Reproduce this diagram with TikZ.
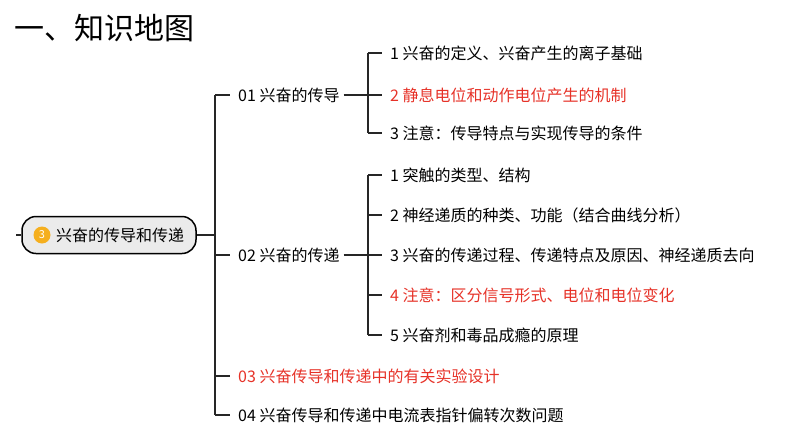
\documentclass[tikz,border=0pt]{standalone}
\usepackage{fontspec}
\setmainfont{Noto Sans CJK SC}
\begin{document}
\begin{tikzpicture}[x=1pt,y=-1pt,
  ln/.style={line width=1.5pt,black!85},
  lab/.style={anchor=west,inner sep=0pt,font=\fontsize{16}{18}\selectfont},
  red/.style={text={rgb,255:red,230;green,50;blue,40}}]
\useasboundingbox (0,0) rectangle (794,447);
\node[anchor=west,inner sep=0pt,font=\fontsize{30}{33}\selectfont] (title) at (14,28) {一、知识地图};
\node[draw,line width=1.5pt,rounded corners=14pt,fill=black!8,minimum width=174pt,minimum height=37pt,inner sep=0pt] (root) at (109,235) {};
\node[circle,fill={rgb,255:red,245;green,175;blue,30},inner sep=0pt,minimum size=17pt,text=white,font=\fontsize{11}{11}\selectfont] (num) at (42,235) {3};
\node[lab,anchor=west] (rt) at (56,235) {兴奋的传导和传递};
\coordinate (l0) at (16,235);
\draw[ln] (l0) -- (root.west);
\coordinate (t1) at (215,95); \coordinate (t4) at (215,415); \coordinate (tm) at (215,235);
\draw[ln] (root.east) -- (tm);
\draw[ln] (t1) -- (t4);
\node[lab] (a) at (238,95) {01 兴奋的传导};
\node[lab] (b) at (238,255) {02 兴奋的传递};
\node[lab,red] (c) at (238,376) {03 兴奋传导和传递中的有关实验设计};
\node[lab] (d) at (238,415) {04 兴奋传导和传递中电流表指针偏转次数问题};
\foreach \n/\y in {a/95,b/255,c/376,d/415}{\draw[ln] (215,\y) -- ([xshift=-8pt]\n.west);}
% group 1
\draw[ln] (368,53) -- (368,133);
\draw[ln] (a.east) ++(4,0) -- (368,95);
\node[lab] (a1) at (390,53) {1 兴奋的定义、兴奋产生的离子基础};
\node[lab,red] (a2) at (390,95) {2 静息电位和动作电位产生的机制};
\node[lab] (a3) at (390,133) {3 注意：传导特点与实现传导的条件};
\foreach \n in {a1,a2,a3}{\draw[ln] (368,0 |- \n.west) -- ([xshift=-8pt]\n.west);}
% group 2
\draw[ln] (368,175) -- (368,335);
\draw[ln] (b.east) ++(4,0) -- (368,255);
\node[lab] (b1) at (390,175) {1 突触的类型、结构};
\node[lab] (b2) at (390,215) {2 神经递质的种类、功能（结合曲线分析）};
\node[lab] (b3) at (390,255) {3 兴奋的传递过程、传递特点及原因、神经递质去向};
\node[lab,red] (b4) at (390,295) {4 注意：区分信号形式、电位和电位变化};
\node[lab] (b5) at (390,335) {5 兴奋剂和毒品成瘾的原理};
\foreach \n in {b1,b2,b3,b4,b5}{\draw[ln] (368,0 |- \n.west) -- ([xshift=-8pt]\n.west);}
\end{tikzpicture}
\end{document}
